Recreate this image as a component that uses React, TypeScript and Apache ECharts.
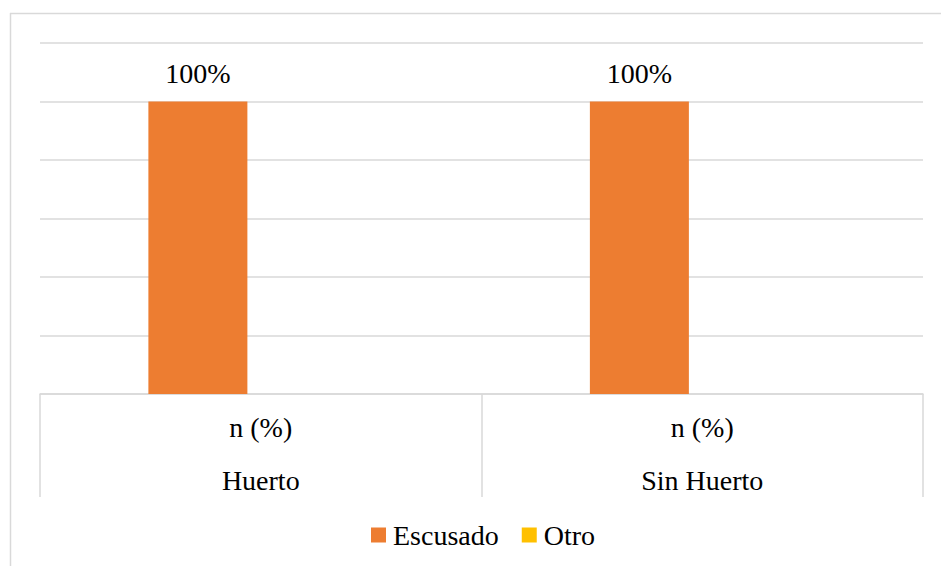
import React, { useEffect, useRef } from "react";
import * as echarts from "echarts";

const categories = ["Huerto", "Sin Huerto"];
const subLabel = "n (%)";
const escusado = [100, 100];
const otro = [0, 0];
const seriesNames = ["Escusado", "Otro"];

const FONT = "Times New Roman, Liberation Serif, DejaVu Serif, serif";
const GRID = "#d9d9d9";

export default function App() {
  const ref = useRef<HTMLDivElement>(null);
  useEffect(() => {
    if (!ref.current) return;
    const chart = echarts.init(ref.current, undefined, { renderer: "svg" });
    chart.setOption({
      animation: false,
      backgroundColor: "#ffffff",
      textStyle: { fontFamily: FONT },
      graphic: [
        { type: "line", shape: { x1: 10, y1: 13.5, x2: 941, y2: 13.5 }, style: { stroke: GRID, lineWidth: 1.5 } },
        { type: "line", shape: { x1: 10.5, y1: 13, x2: 10.5, y2: 566 }, style: { stroke: GRID, lineWidth: 1.5 } },
      ],
      legend: {
        data: seriesNames,
        left: 366,
        top: 516,
        icon: "rect",
        itemWidth: 15,
        itemHeight: 15,
        itemGap: 23,
        textStyle: { fontFamily: FONT, fontSize: 28, color: "#000", padding: [0, 0, 0, 2] },
      },
      grid: { left: 40, right: 18, top: 43, bottom: 172 },
      xAxis: {
        type: "category",
        data: categories,
        axisLine: { show: true, lineStyle: { color: GRID, width: 1.5 } },
        axisTick: { show: true, length: 103, lineStyle: { color: GRID, width: 1.5 } },
        axisLabel: {
          margin: 7,
          fontFamily: FONT,
          fontSize: 28,
          formatter: (v: string) => `{a|${subLabel}}\n{a|${v}}`,
          rich: { a: { fontFamily: FONT, fontSize: 28, lineHeight: 53, color: "#000" } },
        },
      },
      yAxis: {
        type: "value",
        min: 0,
        max: 120,
        interval: 20,
        axisLabel: { show: false },
        axisLine: { show: false },
        axisTick: { show: false },
        splitLine: { lineStyle: { color: GRID, width: 1.5 } },
      },
      series: [
        {
          name: seriesNames[0],
          type: "bar",
          data: escusado,
          barWidth: 99,
          barGap: "27%",
          itemStyle: { color: "#ED7D31" },
          label: {
            show: true,
            position: "top",
            distance: 14,
            formatter: (p: any) => `${p.value}%`,
            fontFamily: FONT,
            fontSize: 28,
            color: "#000",
          },
        },
        {
          name: seriesNames[1],
          type: "bar",
          data: otro,
          barWidth: 99,
          barGap: "27%",
          itemStyle: { color: "#FFC000" },
        },
      ],
    });
    return () => chart.dispose();
  }, []);
  return (
    <div
      ref={ref}
      style={{ position: "fixed", left: 0, top: 0, width: 941, height: 566, background: "#fff" }}
    />
  );
}
